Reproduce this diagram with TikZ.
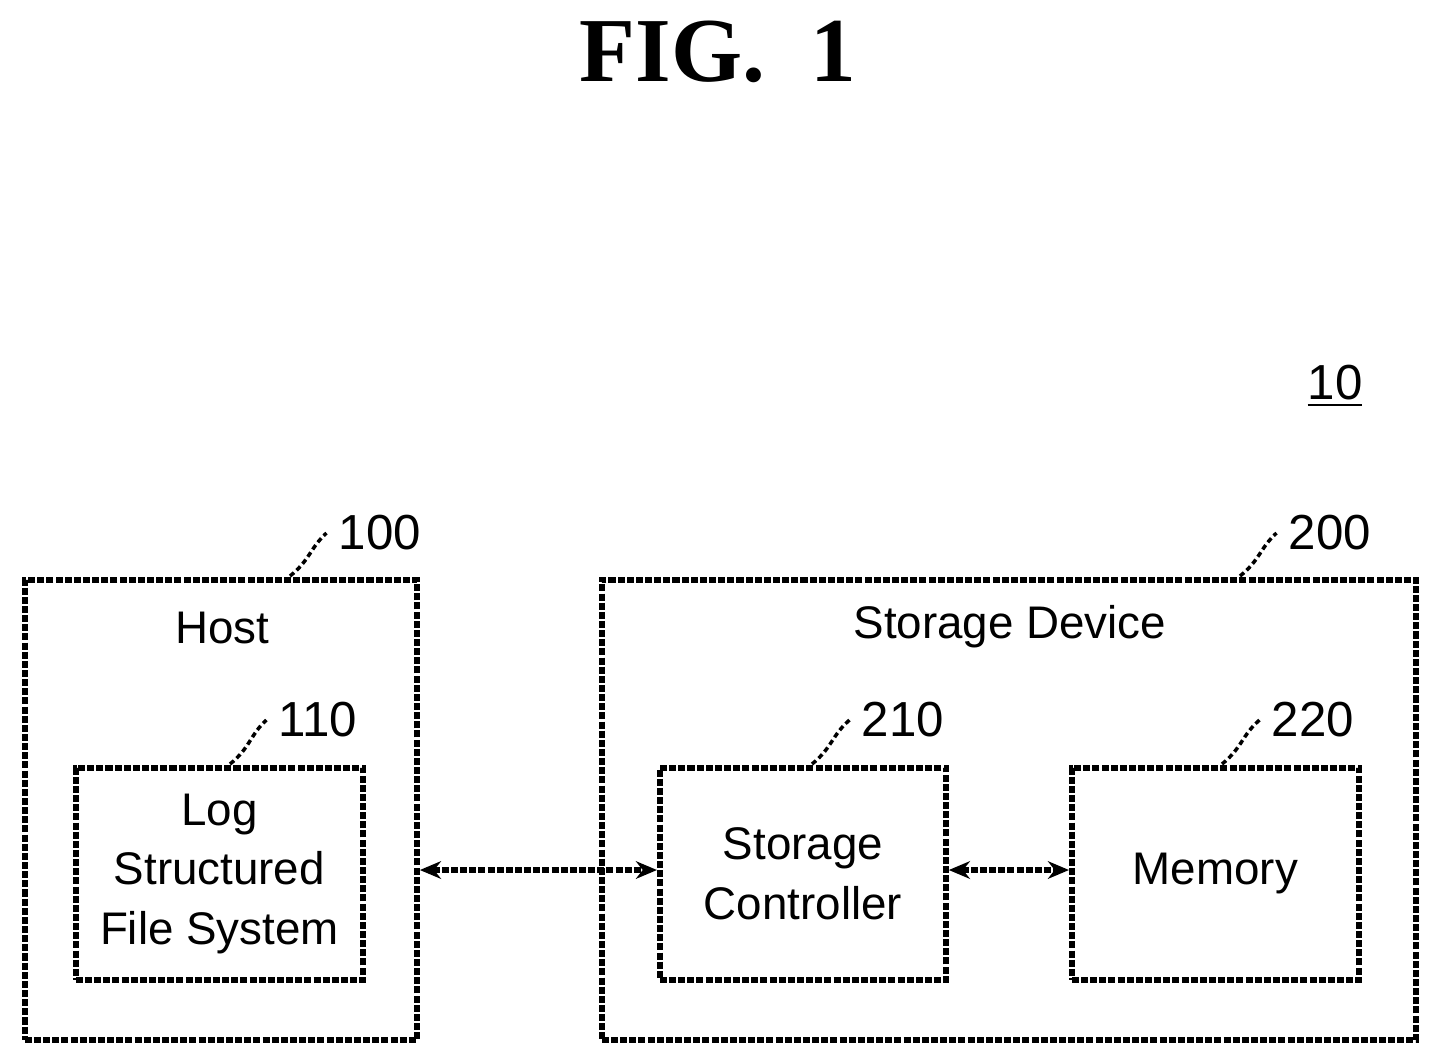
\documentclass[tikz,border=0pt]{standalone}
\usepackage{fontspec}
\setmainfont{Liberation Sans}
\newfontfamily\figfont{Liberation Serif}
\usetikzlibrary{positioning,arrows.meta}
\tikzset{
  blk/.style={draw,line width=1.6pt,dash pattern=on 2pt off 0.6pt,inner sep=0pt,anchor=north west},
  lbl/.style={font=\fontsize{13}{16}\selectfont,align=center},
  num/.style={font=\fontsize{14}{16}\selectfont},
  lead/.style={line width=1pt,dash pattern=on 1.5pt off 1pt},
  bus/.style={line width=1.6pt,dash pattern=on 2pt off 0.6pt,{Stealth[length=6pt,width=5pt]}-{Stealth[length=6pt,width=5pt]}}
}
\begin{document}
\begin{tikzpicture}[x=0.01cm,y=-0.01cm]
\useasboundingbox (0,0) rectangle (1436,1062);
% title
\node (fig) at (718,52) {\fontsize{26}{30}\selectfont\bfseries\figfont FIG.\ \ 1};
\node[num] (sys) at (1335,386) {\underline{10}};
% host side
\node[blk,minimum width=3.92cm,minimum height=4.6cm] (host) at (22,577) {};
\node[lbl] (hostt) at (222,628) {Host};
\node[blk,minimum width=2.87cm,minimum height=2.12cm] (lfs) at (73,765) {};
\node[lbl] at (lfs.center) {Log\\[1pt]Structured\\[1pt]File System};
% storage device
\node[blk,minimum width=8.14cm,minimum height=4.6cm] (dev) at (599,577) {};
\node[lbl] (devt) at (1010,627) {Storage Device};
\node[blk,minimum width=2.86cm,minimum height=2.12cm] (ctrl) at (657,765) {};
\node[lbl] at (ctrl.center) {Storage\\[1pt]Controller};
\node[blk,minimum width=2.87cm,minimum height=2.12cm] (mem) at (1069,765) {};
\node[lbl] at (mem.center) {Memory};
% reference numbers
\node[num] (n100) at (380,533) {100};
\node[num] (n110) at (318,720) {110};
\node[num] (n200) at (1330,533) {200};
\node[num] (n210) at (903,720) {210};
\node[num] (n220) at (1313,720) {220};
\draw[lead] (290,576) .. controls (310,560) and (310,548) .. (n100.west);
\draw[lead] (230,764) .. controls (250,748) and (250,735) .. (n110.west);
\draw[lead] (1240,576) .. controls (1260,560) and (1260,548) .. (n200.west);
\draw[lead] (812,764) .. controls (832,748) and (832,735) .. (n210.west);
\draw[lead] (1222,764) .. controls (1242,748) and (1242,735) .. (n220.west);
% buses
\draw[bus] (host.east |- 0,870) -- (ctrl.west |- 0,870);
\draw[bus] (ctrl.east |- 0,870) -- (mem.west |- 0,870);
\end{tikzpicture}
\end{document}
